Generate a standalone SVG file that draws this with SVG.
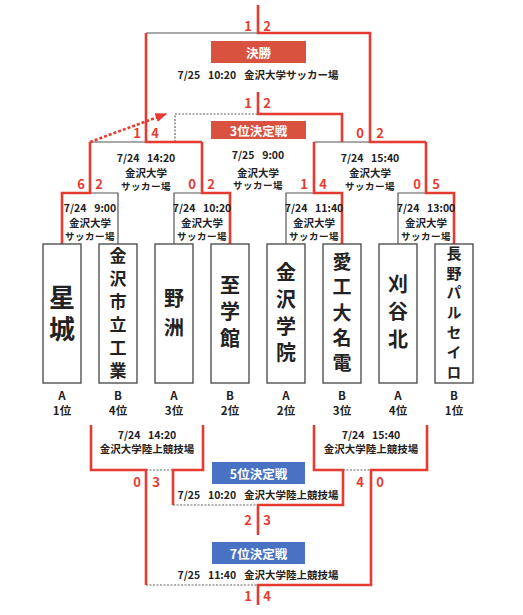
<svg xmlns="http://www.w3.org/2000/svg" width="523" height="615" viewBox="0 0 523 615" xml:space="preserve">
<defs>
<style>
.r{stroke:#e63b30;stroke-width:2.6;fill:none;stroke-linejoin:miter}
.g{stroke:#555;stroke-width:1.2;fill:none}
.d{stroke:#666;stroke-width:1.2;stroke-dasharray:2 1.5;fill:none}
.box{fill:#fff;stroke:#444;stroke-width:1.3}
.t{font-family:"Noto Sans CJK JP","Noto Sans",sans-serif;font-weight:700;fill:#222;text-anchor:middle;dominant-baseline:central;white-space:pre}
.v{writing-mode:vertical-rl;text-orientation:upright}
.info{font-size:10.5px;word-spacing:1.5px}
.small{font-size:9.5px;letter-spacing:0.5px}
.sc{font-size:13px;fill:#e63b30}
.ban{font-size:12.5px;fill:#fff}
.rank{font-size:11.5px}
.rb{fill:#d9523f}
.bb{fill:#4a72c4}
</style>
<marker id="arr" viewBox="0 0 10 10" refX="9" refY="5" markerWidth="4.5" markerHeight="4.5" orient="auto"><path d="M0,1 L10,5 L0,9 z" fill="#e63b30"/></marker>
</defs>
<rect width="523" height="615" fill="#fff"/>
<g id="connectors"><path class="g" d="M90,193 H118 V244"/><path class="g" d="M174,244 V193 H202"/><path class="g" d="M286,244 V193 H314"/><path class="g" d="M398,244 V193 H426"/><path class="g" d="M90,142 H146"/><path class="g" d="M314,142 H370"/><path class="g" d="M146,33 H258"/><path class="d" d="M175,142 V114 H258"/><path class="d" d="M146,470 H173"/><path class="d" d="M343,470 H371"/><path class="d" d="M173,505 H258"/><path class="d" d="M146,585 H258"/><path class="r" d="M62,244 V193 H90 V142"/><path class="r" d="M230,244 V193 H202 V142"/><path class="r" d="M342,244 V193 H314 V142"/><path class="r" d="M454,244 V193 H426 V142"/><path class="r" d="M202,142 H146 V33"/><path class="r" d="M426,142 H370 V33 H258 V5"/><path class="r" d="M342,142 V114 H258 V92"/><path class="r" d="M90,142 L166,114" stroke-width="1.1" stroke-dasharray="3 2" marker-end="url(#arr)"/><path class="r" d="M91,425 V470 H146 V585"/><path class="r" d="M203,425 V470 H173 V505"/><path class="r" d="M314,425 V470 H343 V505 H258 V535"/><path class="r" d="M427,425 V470 H371 V585 H258 V605"/></g>
<g id="final"><rect class="rb" x="211" y="41" width="95" height="22"/><text class="t ban" x="258.5" y="52">決勝</text><text class="t info" x="258" y="74">7/25  10:20  金沢大学サッカー場</text><text class="t sc" x="248" y="25">1</text><text class="t sc" x="267" y="25">2</text></g>
<g id="third-place"><rect class="rb" x="211" y="121" width="95" height="18"/><text class="t ban" x="258.5" y="130">3位決定戦</text><text class="t info" x="258" y="154">7/25  9:00</text><text class="t info" x="258" y="172">金沢大学</text><text class="t small" x="258" y="185">サッカー場</text><text class="t sc" x="248" y="102">1</text><text class="t sc" x="267" y="102">2</text></g>
<g id="semi-left"><text class="t info" x="146" y="157">7/24  14:20</text><text class="t info" x="146" y="172">金沢大学</text><text class="t small" x="146" y="186">サッカー場</text><text class="t sc" x="137" y="132">1</text><text class="t sc" x="155" y="132">4</text></g>
<g id="semi-right"><text class="t info" x="370" y="157">7/24  15:40</text><text class="t info" x="370" y="172">金沢大学</text><text class="t small" x="370" y="186">サッカー場</text><text class="t sc" x="360" y="132">0</text><text class="t sc" x="380" y="132">2</text></g>
<g id="r1-m1"><text class="t info" x="90" y="207">7/24  9:00</text><text class="t info" x="90" y="222">金沢大学</text><text class="t small" x="90" y="236">サッカー場</text><text class="t sc" x="81" y="183">6</text><text class="t sc" x="99" y="183">2</text></g>
<g id="r1-m2"><text class="t info" x="202" y="207">7/24  10:20</text><text class="t info" x="202" y="222">金沢大学</text><text class="t small" x="202" y="236">サッカー場</text><text class="t sc" x="192" y="183">0</text><text class="t sc" x="211" y="183">2</text></g>
<g id="r1-m3"><text class="t info" x="314" y="207">7/24  11:40</text><text class="t info" x="314" y="222">金沢大学</text><text class="t small" x="314" y="236">サッカー場</text><text class="t sc" x="304" y="183">1</text><text class="t sc" x="323" y="183">4</text></g>
<g id="r1-m4"><text class="t info" x="426" y="207">7/24  13:00</text><text class="t info" x="426" y="222">金沢大学</text><text class="t small" x="426" y="236">サッカー場</text><text class="t sc" x="417" y="183">0</text><text class="t sc" x="436" y="183">5</text></g>
<g id="team-seijo"><rect class="box" x="43" y="244" width="38" height="139"/><text class="t v" font-size="26" letter-spacing="6" x="62" y="316">星城</text><text class="t rank" x="62" y="395">A</text><text class="t rank" x="62" y="410">1位</text></g>
<g id="team-kanazawa-shiritsu"><rect class="box" x="99" y="244" width="38" height="139"/><text class="t v" font-size="17" letter-spacing="6" x="118" y="316">金沢市立工業</text><text class="t rank" x="118" y="395">B</text><text class="t rank" x="118" y="410">4位</text></g>
<g id="team-yasu"><rect class="box" x="155" y="244" width="38" height="139"/><text class="t v" font-size="20" letter-spacing="9" x="174" y="317">野洲</text><text class="t rank" x="174" y="395">A</text><text class="t rank" x="174" y="410">3位</text></g>
<g id="team-shigakukan"><rect class="box" x="211" y="244" width="38" height="139"/><text class="t v" font-size="20" letter-spacing="6.5" x="230" y="315">至学館</text><text class="t rank" x="230" y="395">B</text><text class="t rank" x="230" y="410">2位</text></g>
<g id="team-kanazawa-gakuin"><rect class="box" x="267" y="244" width="38" height="139"/><text class="t v" font-size="20" letter-spacing="6.7" x="286" y="316">金沢学院</text><text class="t rank" x="286" y="395">A</text><text class="t rank" x="286" y="410">2位</text></g>
<g id="team-aikodai-meiden"><rect class="box" x="323" y="244" width="38" height="139"/><text class="t v" font-size="19" letter-spacing="6.25" x="342" y="315.5">愛工大名電</text><text class="t rank" x="342" y="395">B</text><text class="t rank" x="342" y="410">3位</text></g>
<g id="team-kariya-kita"><rect class="box" x="379" y="244" width="38" height="139"/><text class="t v" font-size="20" letter-spacing="7.5" x="398" y="315.5">刈谷北</text><text class="t rank" x="398" y="395">A</text><text class="t rank" x="398" y="410">4位</text></g>
<g id="team-nagano-parceiro"><rect class="box" x="435" y="244" width="38" height="139"/><text class="t v" font-size="15" letter-spacing="4.8" x="454" y="315">長野パルセイロ</text><text class="t rank" x="454" y="395">B</text><text class="t rank" x="454" y="410">1位</text></g>
<g id="cons-left"><text class="t info" x="147" y="434">7/24  14:20</text><text class="t info" x="147" y="448">金沢大学陸上競技場</text><text class="t sc" x="137" y="481">0</text><text class="t sc" x="156" y="481">3</text></g>
<g id="cons-right"><text class="t info" x="371" y="434">7/24  15:40</text><text class="t info" x="371" y="448">金沢大学陸上競技場</text><text class="t sc" x="360" y="481">4</text><text class="t sc" x="380" y="481">0</text></g>
<g id="fifth-place"><rect class="bb" x="212" y="462" width="93" height="22"/><text class="t ban" x="258.5" y="473">5位決定戦</text><text class="t info" x="258" y="494">7/25  10:20  金沢大学陸上競技場</text><text class="t sc" x="248" y="519">2</text><text class="t sc" x="267" y="519">3</text></g>
<g id="seventh-place"><rect class="bb" x="212" y="542" width="93" height="22"/><text class="t ban" x="258.5" y="553">7位決定戦</text><text class="t info" x="258" y="574">7/25  11:40  金沢大学陸上競技場</text><text class="t sc" x="248" y="595">1</text><text class="t sc" x="267" y="595">4</text></g>
</svg>
